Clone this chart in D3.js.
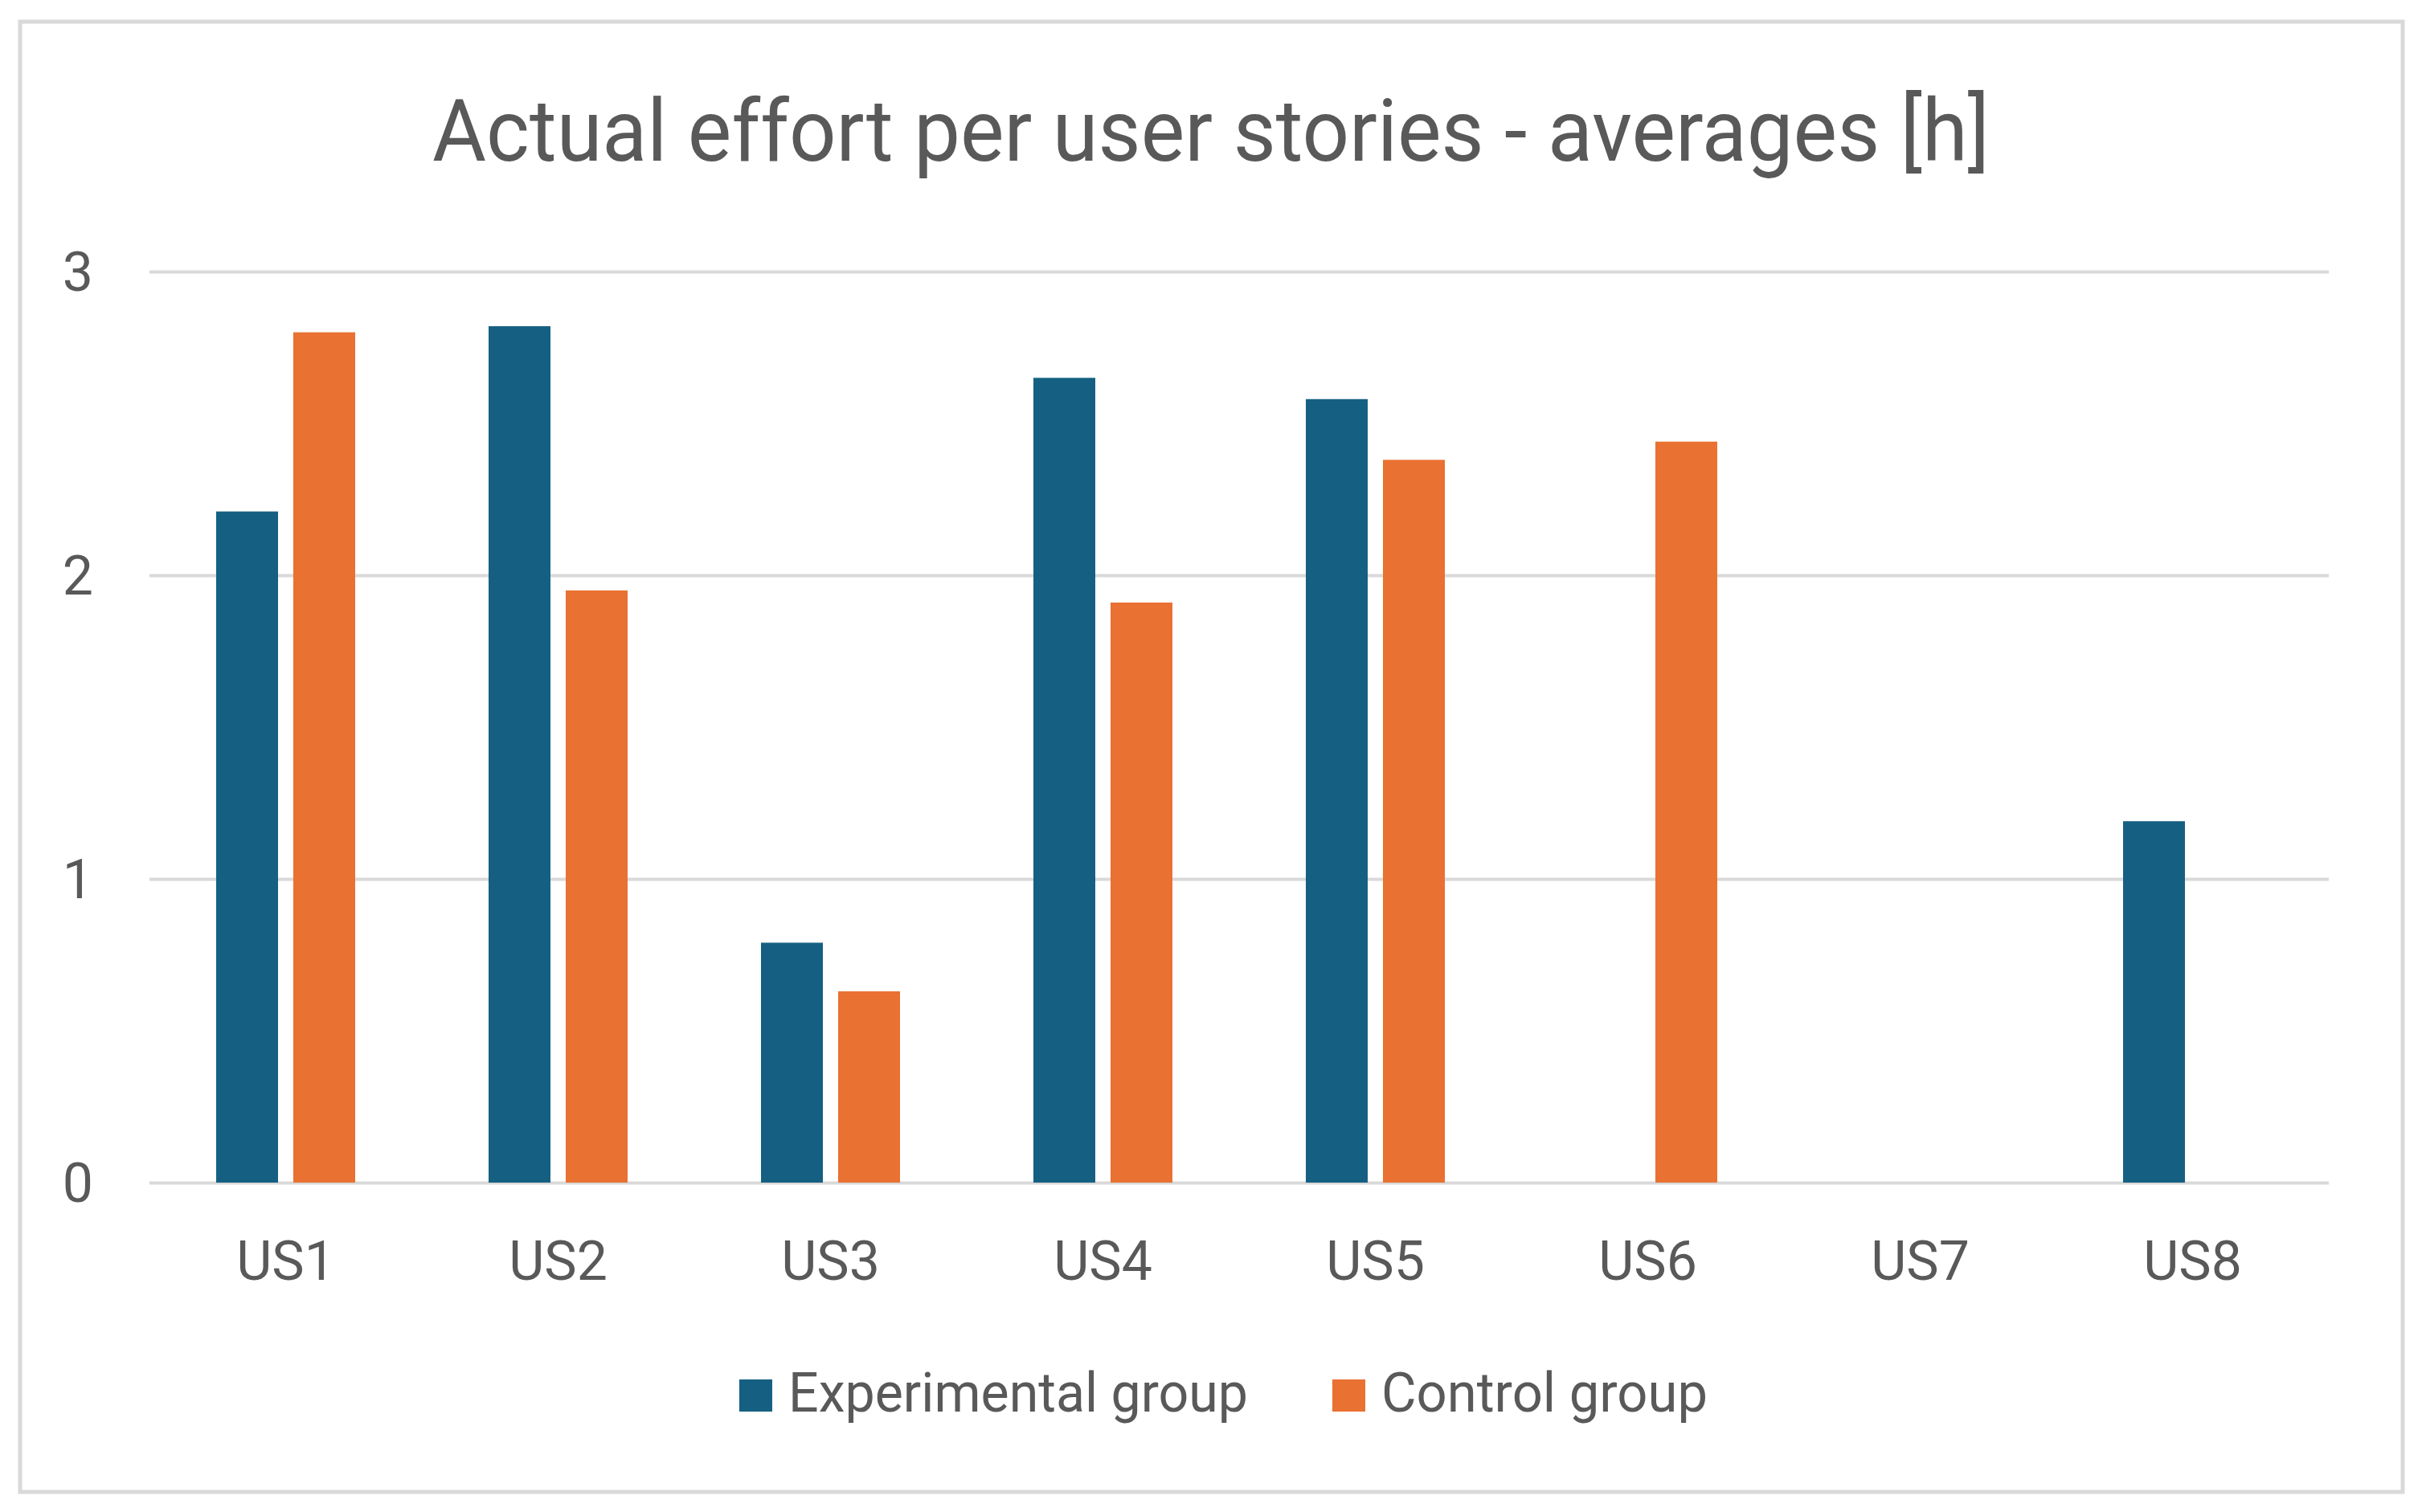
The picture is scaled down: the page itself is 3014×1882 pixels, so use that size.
<!DOCTYPE html>
<html>
<head>
<meta charset="utf-8">
<script src="https://cdn.jsdelivr.net/npm/d3@7"></script>
<style>
  body { margin: 0; background: #fff; }
  text { font-family: Roboto, "Noto Sans", sans-serif; fill: #595959; }
</style>
</head>
<body>
<script>
const width = 3014
const height = 1882

// data
const categories = ['US1', 'US2', 'US3', 'US4', 'US5', 'US6', 'US7', 'US8']
const experimental = [2.21, 2.82, 0.79, 2.65, 2.58, 0, 0, 1.19]
const control = [2.80, 1.95, 0.63, 1.91, 2.38, 2.44, 0, 0]
const seriesNames = ['Experimental group', 'Control group']
const seriesColors = ['#156082', '#E97132']
const yTicks = [0, 1, 2, 3]

const plot = {left: 186, right: 2898, top: 338, bottom: 1472}

var svg = d3.select('body').append('svg')
    .attr('width', width)
    .attr('height', height)

// chart frame
svg.append('rect')
    .attr('x', 25)
    .attr('y', 27)
    .attr('width', 2965)
    .attr('height', 1830)
    .style('fill', '#fff')
    .style('stroke', '#d9d9d9')
    .style('stroke-width', 5)

svg.append('text')
    .attr('x', 1507)
    .attr('y', 200)
    .attr('text-anchor', 'middle')
    .attr('textLength', 1938)
    .attr('lengthAdjust', 'spacingAndGlyphs')
    .style('font-size', '108px')
    .text('Actual effort per user stories - averages [h]')

let x = d3.scaleBand()
    .domain(categories)
    .range([plot.left, plot.right])
    .padding(0)

let y = d3.scaleLinear()
    .domain([0, 3])
    .range([plot.bottom, plot.top])

// bars sit inside each band: 77px wide, 19px apart
let inner = d3.scaleBand()
    .domain([0, 1])
    .range([0, 173])
    .paddingInner(19 / 96)

// gridlines + y labels
let yAxis = svg.append('g')
    .attr('transform', `translate(${plot.left},0)`)
    .call(d3.axisLeft(y).tickValues(yTicks).tickFormat(d3.format('d'))
        .tickSize(-(plot.right - plot.left)).tickPadding(70))
yAxis.select('.domain').remove()
yAxis.selectAll('.tick line')
    .style('stroke', '#d9d9d9')
    .style('stroke-width', 4)
yAxis.selectAll('.tick text')
    .attr('dy', '0.35em')
    .style('font-size', '68px')
    .style('fill', '#595959')

let groups = [experimental, control]
groups.forEach(function(vals, s) {
    svg.append('g').selectAll('rect')
        .data(vals.map((v, i) => ({cat: categories[i], v: v})).filter(d => d.v > 0))
        .join('rect')
        .attr('x', d => x(d.cat) + (x.bandwidth() - 173) / 2 + inner(s))
        .attr('y', d => y(d.v))
        .attr('width', inner.bandwidth())
        .attr('height', d => y(0) - y(d.v))
        .style('fill', seriesColors[s])
})

// category labels
let xAxis = svg.append('g')
    .attr('transform', `translate(0,${plot.bottom})`)
    .call(d3.axisBottom(x).tickSize(0).tickPadding(121))
xAxis.select('.domain').remove()
xAxis.selectAll('.tick text')
    .attr('dy', 0)
    .style('font-size', '68px')
    .style('fill', '#595959')

// legend
const legendX = [920, 1658]
const legendW = [572, 406]
seriesNames.forEach(function(name, i) {
    svg.append('rect')
        .attr('x', legendX[i])
        .attr('y', 1717)
        .attr('width', 41)
        .attr('height', 40)
        .style('fill', seriesColors[i])
    svg.append('text')
        .attr('x', legendX[i] + 61)
        .attr('y', 1757)
        .attr('textLength', legendW[i])
        .attr('lengthAdjust', 'spacingAndGlyphs')
        .style('font-size', '68px')
        .text(name)
})
</script>
</body>
</html>
